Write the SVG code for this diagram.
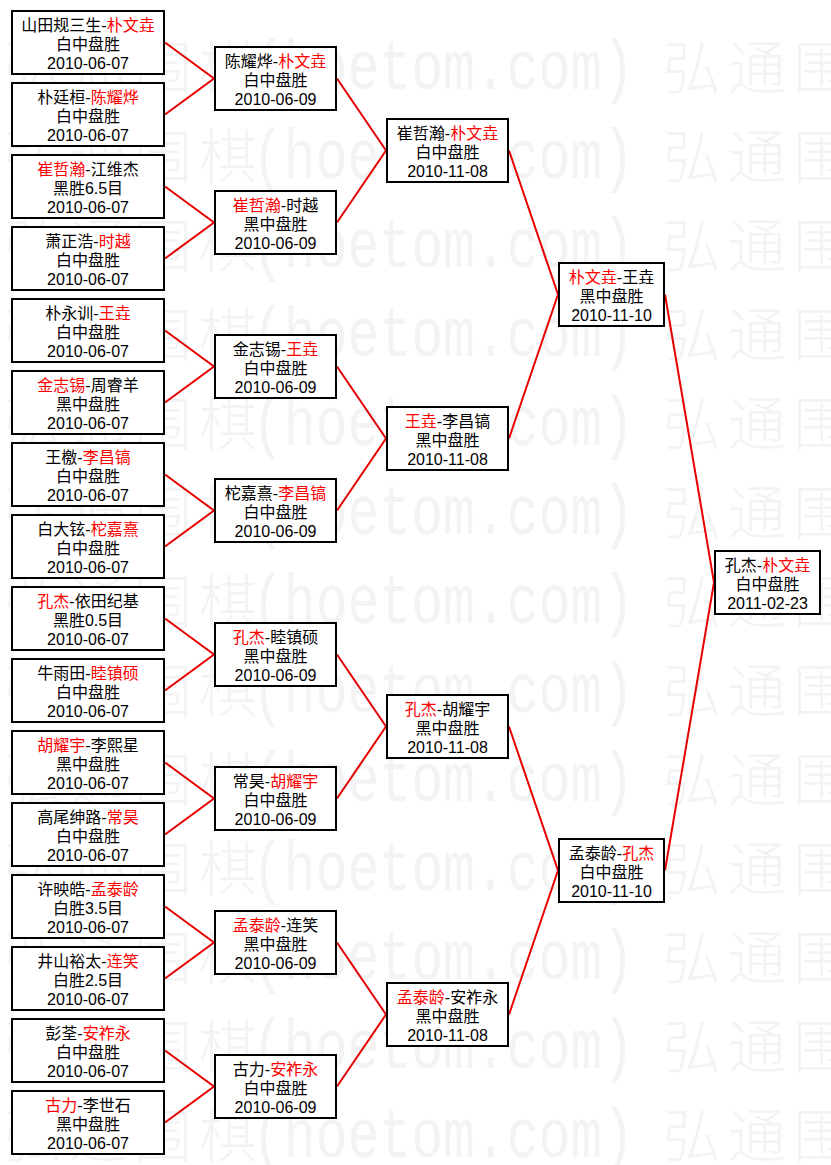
<svg xmlns="http://www.w3.org/2000/svg" width="831" height="1165" viewBox="0 0 831 1165">
<style>
.bg{fill:#ffffff}
.wmc{fill:#f3f3f3;font-family:"Noto Sans CJK SC",sans-serif;font-size:58px;font-weight:300;letter-spacing:7px}
.wml{fill:#f3f3f3;font-family:"Liberation Mono",monospace;font-size:70px}
.box{fill:#ffffff;stroke:#000000;stroke-width:2}
.t{font-family:"Liberation Sans","Noto Sans CJK SC",sans-serif;font-size:16px;text-anchor:middle;fill:#000000}
.w{fill:#ff0000}
.link{fill:none;stroke:#e80000;stroke-width:2}
</style>
<defs>
<pattern id="wmp" patternUnits="userSpaceOnUse" x="0" y="30" width="659" height="89">
<text class="wmc" x="4" y="59">弘通围棋</text>
<text class="wml" x="252" y="59" textLength="382" lengthAdjust="spacingAndGlyphs">(hoetom.com)</text>
</pattern>
</defs>
<rect class="bg" x="0" y="0" width="831" height="1165"/>
<rect id="watermark" x="0" y="30" width="831" height="1135" fill="url(#wmp)"/>
<g id="connectors">
<polyline class="link" points="165,42.5 214,78.5 165,114.5"/>
<polyline class="link" points="165,186.5 214,222.5 165,258.5"/>
<polyline class="link" points="165,330.5 214,366.5 165,402.5"/>
<polyline class="link" points="165,474.5 214,510.5 165,546.5"/>
<polyline class="link" points="165,618.5 214,654.5 165,690.5"/>
<polyline class="link" points="165,762.5 214,798.5 165,834.5"/>
<polyline class="link" points="165,906.5 214,942.5 165,978.5"/>
<polyline class="link" points="165,1050.5 214,1086.5 165,1122.5"/>
<polyline class="link" points="337,78.5 386,150.5 337,222.5"/>
<polyline class="link" points="337,366.5 386,438.5 337,510.5"/>
<polyline class="link" points="337,654.5 386,726.5 337,798.5"/>
<polyline class="link" points="337,942.5 386,1014.5 337,1086.5"/>
<polyline class="link" points="509,150.5 558,294.5 509,438.5"/>
<polyline class="link" points="509,726.5 558,870.5 509,1014.5"/>
<polyline class="link" points="665,294.5 714,582.5 665,870.5"/>
</g>
<g id="r1-1" transform="translate(12,11)"><rect class="box" width="152" height="63"/><text class="t"><tspan x="76" y="20">山田规三生-<tspan class="w">朴文垚</tspan></tspan><tspan x="76" y="39">白中盘胜</tspan><tspan x="76" y="57.5">2010-06-07</tspan></text></g>
<g id="r1-2" transform="translate(12,83)"><rect class="box" width="152" height="63"/><text class="t"><tspan x="76" y="20">朴廷桓-<tspan class="w">陈耀烨</tspan></tspan><tspan x="76" y="39">白中盘胜</tspan><tspan x="76" y="57.5">2010-06-07</tspan></text></g>
<g id="r1-3" transform="translate(12,155)"><rect class="box" width="152" height="63"/><text class="t"><tspan x="76" y="20"><tspan class="w">崔哲瀚</tspan>-江维杰</tspan><tspan x="76" y="39">黑胜6.5目</tspan><tspan x="76" y="57.5">2010-06-07</tspan></text></g>
<g id="r1-4" transform="translate(12,227)"><rect class="box" width="152" height="63"/><text class="t"><tspan x="76" y="20">萧正浩-<tspan class="w">时越</tspan></tspan><tspan x="76" y="39">白中盘胜</tspan><tspan x="76" y="57.5">2010-06-07</tspan></text></g>
<g id="r1-5" transform="translate(12,299)"><rect class="box" width="152" height="63"/><text class="t"><tspan x="76" y="20">朴永训-<tspan class="w">王垚</tspan></tspan><tspan x="76" y="39">白中盘胜</tspan><tspan x="76" y="57.5">2010-06-07</tspan></text></g>
<g id="r1-6" transform="translate(12,371)"><rect class="box" width="152" height="63"/><text class="t"><tspan x="76" y="20"><tspan class="w">金志锡</tspan>-周睿羊</tspan><tspan x="76" y="39">黑中盘胜</tspan><tspan x="76" y="57.5">2010-06-07</tspan></text></g>
<g id="r1-7" transform="translate(12,443)"><rect class="box" width="152" height="63"/><text class="t"><tspan x="76" y="20">王檄-<tspan class="w">李昌镐</tspan></tspan><tspan x="76" y="39">白中盘胜</tspan><tspan x="76" y="57.5">2010-06-07</tspan></text></g>
<g id="r1-8" transform="translate(12,515)"><rect class="box" width="152" height="63"/><text class="t"><tspan x="76" y="20">白大铉-<tspan class="w">柁嘉熹</tspan></tspan><tspan x="76" y="39">白中盘胜</tspan><tspan x="76" y="57.5">2010-06-07</tspan></text></g>
<g id="r1-9" transform="translate(12,587)"><rect class="box" width="152" height="63"/><text class="t"><tspan x="76" y="20"><tspan class="w">孔杰</tspan>-依田纪基</tspan><tspan x="76" y="39">黑胜0.5目</tspan><tspan x="76" y="57.5">2010-06-07</tspan></text></g>
<g id="r1-10" transform="translate(12,659)"><rect class="box" width="152" height="63"/><text class="t"><tspan x="76" y="20">牛雨田-<tspan class="w">睦镇硕</tspan></tspan><tspan x="76" y="39">白中盘胜</tspan><tspan x="76" y="57.5">2010-06-07</tspan></text></g>
<g id="r1-11" transform="translate(12,731)"><rect class="box" width="152" height="63"/><text class="t"><tspan x="76" y="20"><tspan class="w">胡耀宇</tspan>-李熙星</tspan><tspan x="76" y="39">黑中盘胜</tspan><tspan x="76" y="57.5">2010-06-07</tspan></text></g>
<g id="r1-12" transform="translate(12,803)"><rect class="box" width="152" height="63"/><text class="t"><tspan x="76" y="20">高尾绅路-<tspan class="w">常昊</tspan></tspan><tspan x="76" y="39">白中盘胜</tspan><tspan x="76" y="57.5">2010-06-07</tspan></text></g>
<g id="r1-13" transform="translate(12,875)"><rect class="box" width="152" height="63"/><text class="t"><tspan x="76" y="20">许映皓-<tspan class="w">孟泰龄</tspan></tspan><tspan x="76" y="39">白胜3.5目</tspan><tspan x="76" y="57.5">2010-06-07</tspan></text></g>
<g id="r1-14" transform="translate(12,947)"><rect class="box" width="152" height="63"/><text class="t"><tspan x="76" y="20">井山裕太-<tspan class="w">连笑</tspan></tspan><tspan x="76" y="39">白胜2.5目</tspan><tspan x="76" y="57.5">2010-06-07</tspan></text></g>
<g id="r1-15" transform="translate(12,1019)"><rect class="box" width="152" height="63"/><text class="t"><tspan x="76" y="20">彭荃-<tspan class="w">安祚永</tspan></tspan><tspan x="76" y="39">白中盘胜</tspan><tspan x="76" y="57.5">2010-06-07</tspan></text></g>
<g id="r1-16" transform="translate(12,1091)"><rect class="box" width="152" height="63"/><text class="t"><tspan x="76" y="20"><tspan class="w">古力</tspan>-李世石</tspan><tspan x="76" y="39">黑中盘胜</tspan><tspan x="76" y="57.5">2010-06-07</tspan></text></g>
<g id="r2-1" transform="translate(215,47)"><rect class="box" width="121" height="63"/><text class="t"><tspan x="60.5" y="20">陈耀烨-<tspan class="w">朴文垚</tspan></tspan><tspan x="60.5" y="39">白中盘胜</tspan><tspan x="60.5" y="57.5">2010-06-09</tspan></text></g>
<g id="r2-2" transform="translate(215,191)"><rect class="box" width="121" height="63"/><text class="t"><tspan x="60.5" y="20"><tspan class="w">崔哲瀚</tspan>-时越</tspan><tspan x="60.5" y="39">黑中盘胜</tspan><tspan x="60.5" y="57.5">2010-06-09</tspan></text></g>
<g id="r2-3" transform="translate(215,335)"><rect class="box" width="121" height="63"/><text class="t"><tspan x="60.5" y="20">金志锡-<tspan class="w">王垚</tspan></tspan><tspan x="60.5" y="39">白中盘胜</tspan><tspan x="60.5" y="57.5">2010-06-09</tspan></text></g>
<g id="r2-4" transform="translate(215,479)"><rect class="box" width="121" height="63"/><text class="t"><tspan x="60.5" y="20">柁嘉熹-<tspan class="w">李昌镐</tspan></tspan><tspan x="60.5" y="39">白中盘胜</tspan><tspan x="60.5" y="57.5">2010-06-09</tspan></text></g>
<g id="r2-5" transform="translate(215,623)"><rect class="box" width="121" height="63"/><text class="t"><tspan x="60.5" y="20"><tspan class="w">孔杰</tspan>-睦镇硕</tspan><tspan x="60.5" y="39">黑中盘胜</tspan><tspan x="60.5" y="57.5">2010-06-09</tspan></text></g>
<g id="r2-6" transform="translate(215,767)"><rect class="box" width="121" height="63"/><text class="t"><tspan x="60.5" y="20">常昊-<tspan class="w">胡耀宇</tspan></tspan><tspan x="60.5" y="39">白中盘胜</tspan><tspan x="60.5" y="57.5">2010-06-09</tspan></text></g>
<g id="r2-7" transform="translate(215,911)"><rect class="box" width="121" height="63"/><text class="t"><tspan x="60.5" y="20"><tspan class="w">孟泰龄</tspan>-连笑</tspan><tspan x="60.5" y="39">黑中盘胜</tspan><tspan x="60.5" y="57.5">2010-06-09</tspan></text></g>
<g id="r2-8" transform="translate(215,1055)"><rect class="box" width="121" height="63"/><text class="t"><tspan x="60.5" y="20">古力-<tspan class="w">安祚永</tspan></tspan><tspan x="60.5" y="39">白中盘胜</tspan><tspan x="60.5" y="57.5">2010-06-09</tspan></text></g>
<g id="r3-1" transform="translate(387,119)"><rect class="box" width="121" height="63"/><text class="t"><tspan x="60.5" y="20">崔哲瀚-<tspan class="w">朴文垚</tspan></tspan><tspan x="60.5" y="39">白中盘胜</tspan><tspan x="60.5" y="57.5">2010-11-08</tspan></text></g>
<g id="r3-2" transform="translate(387,407)"><rect class="box" width="121" height="63"/><text class="t"><tspan x="60.5" y="20"><tspan class="w">王垚</tspan>-李昌镐</tspan><tspan x="60.5" y="39">黑中盘胜</tspan><tspan x="60.5" y="57.5">2010-11-08</tspan></text></g>
<g id="r3-3" transform="translate(387,695)"><rect class="box" width="121" height="63"/><text class="t"><tspan x="60.5" y="20"><tspan class="w">孔杰</tspan>-胡耀宇</tspan><tspan x="60.5" y="39">黑中盘胜</tspan><tspan x="60.5" y="57.5">2010-11-08</tspan></text></g>
<g id="r3-4" transform="translate(387,983)"><rect class="box" width="121" height="63"/><text class="t"><tspan x="60.5" y="20"><tspan class="w">孟泰龄</tspan>-安祚永</tspan><tspan x="60.5" y="39">黑中盘胜</tspan><tspan x="60.5" y="57.5">2010-11-08</tspan></text></g>
<g id="r4-1" transform="translate(559,263)"><rect class="box" width="105" height="63"/><text class="t"><tspan x="52.5" y="20"><tspan class="w">朴文垚</tspan>-王垚</tspan><tspan x="52.5" y="39">黑中盘胜</tspan><tspan x="52.5" y="57.5">2010-11-10</tspan></text></g>
<g id="r4-2" transform="translate(559,839)"><rect class="box" width="105" height="63"/><text class="t"><tspan x="52.5" y="20">孟泰龄-<tspan class="w">孔杰</tspan></tspan><tspan x="52.5" y="39">白中盘胜</tspan><tspan x="52.5" y="57.5">2010-11-10</tspan></text></g>
<g id="final" transform="translate(715,551)"><rect class="box" width="105" height="63"/><text class="t"><tspan x="52.5" y="20">孔杰-<tspan class="w">朴文垚</tspan></tspan><tspan x="52.5" y="39">白中盘胜</tspan><tspan x="52.5" y="57.5">2011-02-23</tspan></text></g>
</svg>
